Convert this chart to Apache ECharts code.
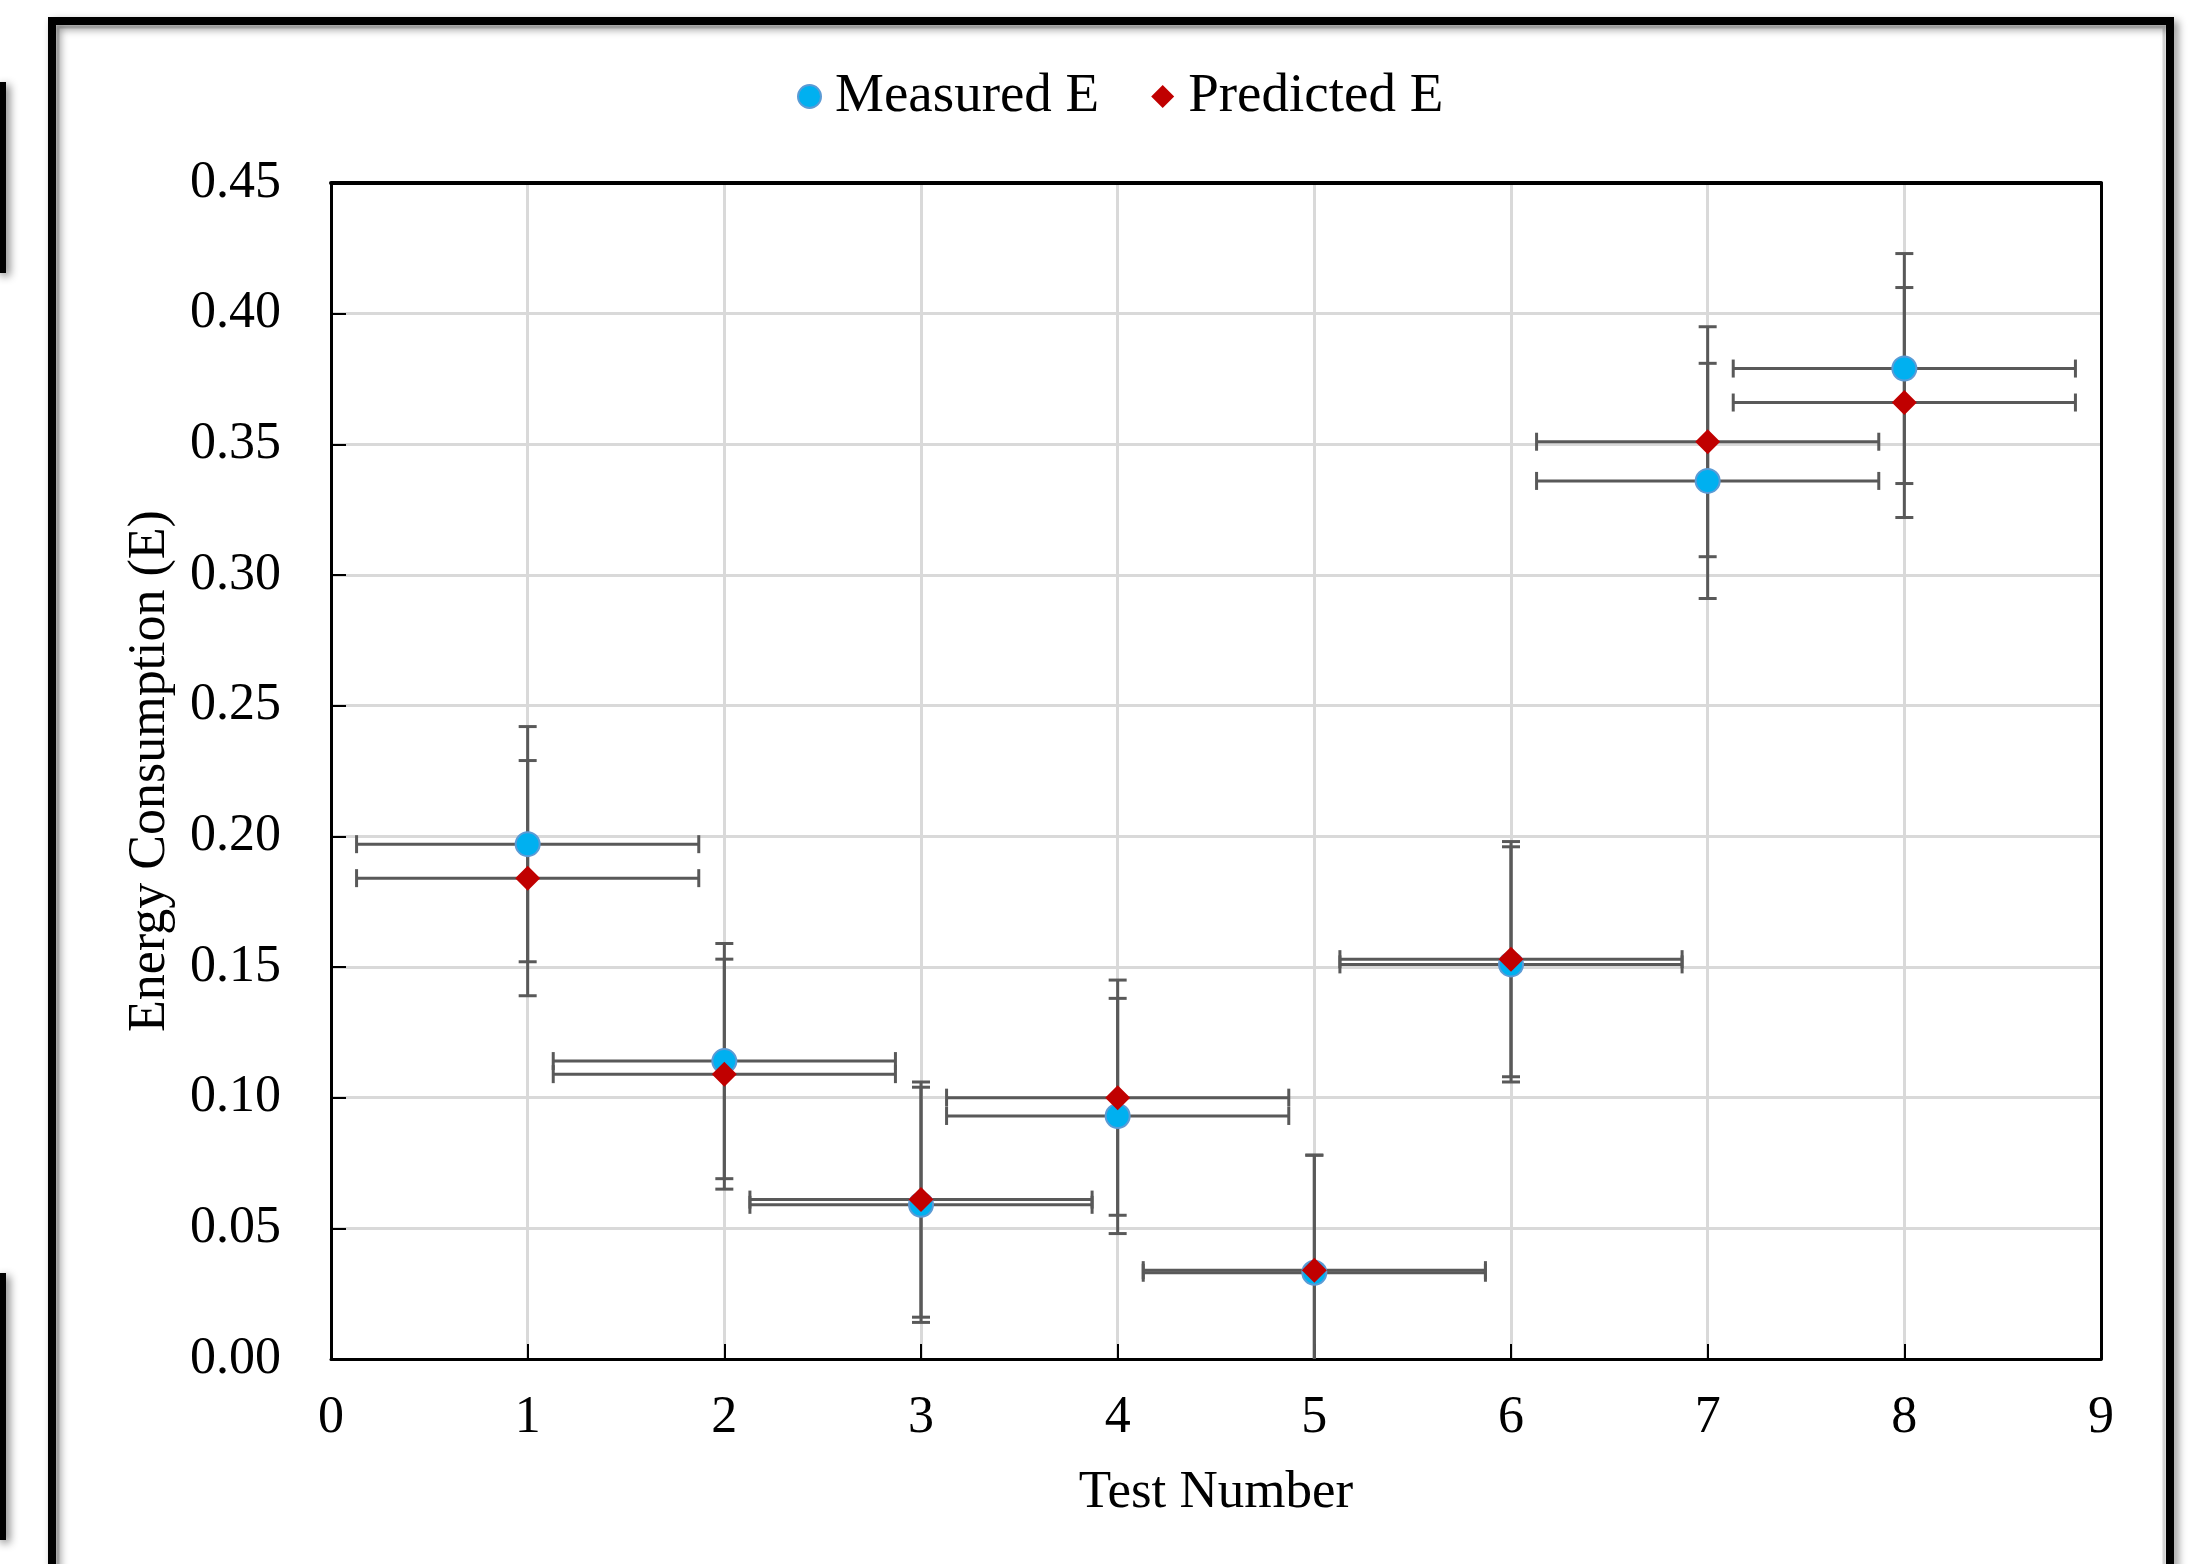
<!DOCTYPE html>
<html>
<head>
<meta charset="utf-8">
<title>Energy Consumption</title>
<script src="https://cdn.jsdelivr.net/npm/echarts@6/dist/echarts.min.js"></script>
<style>
  html, body { margin: 0; padding: 0; background: #fff; }
  #chart { width: 2193px; height: 1564px; }
</style>
</head>
<body>
<div id="chart"></div>
<script>
// 测试编号
const testNumbers = [1, 2, 3, 4, 5, 6, 7, 8];
// 实测值 / 预测值
const measuredE = [0.197, 0.114, 0.059, 0.093, 0.033, 0.151, 0.336, 0.379];
const predictedE = [0.184, 0.109, 0.061, 0.100, 0.034, 0.153, 0.351, 0.366];
// 误差棒 (y方向)
const measuredYErr = [0.045, 0.045, 0.045, 0.045, 0.045, 0.045, 0.045, 0.044];
const predictedYErr = [0.045, 0.044, 0.045, 0.045, 0.044, 0.045, 0.044, 0.044];
// 误差棒 (x方向)
const measuredXErr = [0.87, 0.87, 0.87, 0.87, 0.87, 0.87, 0.87, 0.87];
const predictedXErr = [0.87, 0.87, 0.87, 0.87, 0.87, 0.87, 0.87, 0.87];
// 坐标轴刻度
const xTicks = [0, 1, 2, 3, 4, 5, 6, 7, 8, 9];
const yTicks = [0, 0.05, 0.10, 0.15, 0.20, 0.25, 0.30, 0.35, 0.40, 0.45];

const FONT = 'Liberation Serif';
const BAR_COLOR = '#595959';

const chart = echarts.init(document.getElementById('chart'));

// 误差棒数据 [x, y, xerr, yerr]
const errData = (ys, xe, ye) => testNumbers.map((x, i) => [x, ys[i], xe[i], ye[i]]);

// 画十字误差棒
function renderErrorBar(params, api) {
  const x = api.value(0);
  const y = api.value(1);
  const xe = api.value(2);
  const ye = api.value(3);
  const cap = 9;
  const style = { stroke: BAR_COLOR, lineWidth: 3, fill: null };

  const left = api.coord([x - xe, y]);
  const right = api.coord([x + xe, y]);
  const lowVal = Math.max(0, y - ye);
  const top = api.coord([x, y + ye]);
  const bottom = api.coord([x, lowVal]);

  const line = (x1, y1, x2, y2) => ({
    type: 'line',
    shape: { x1: x1, y1: y1, x2: x2, y2: y2 },
    style: style
  });

  const children = [
    line(left[0], left[1], right[0], right[1]),
    line(left[0], left[1] - cap, left[0], left[1] + cap),
    line(right[0], right[1] - cap, right[0], right[1] + cap),
    line(top[0], top[1], bottom[0], bottom[1]),
    line(top[0] - cap, top[1], top[0] + cap, top[1])
  ];
  // 低于0的部分被坐标轴截断，不画端帽
  if (y - ye >= 0) {
    children.push(line(bottom[0] - cap, bottom[1], bottom[0] + cap, bottom[1]));
  }
  return { type: 'group', children: children };
}

const option = {
  animation: false,
  backgroundColor: '#fff',
  textStyle: { fontFamily: FONT, color: '#000' },
  graphic: [
    // 外框
    {
      type: 'rect',
      shape: { x: 52, y: 21, width: 2118, height: 1620 },
      style: {
        fill: null, stroke: '#000', lineWidth: 8,
        shadowBlur: 8, shadowColor: 'rgba(0,0,0,0.45)', shadowOffsetX: 4, shadowOffsetY: 4
      },
      z: 100
    },
    {
      type: 'rect',
      shape: { x: 58, y: 27, width: 2106, height: 1620 },
      style: { fill: null, stroke: '#d9d9d9', lineWidth: 3 },
      z: 99
    },
    // 左侧相邻图片边缘
    {
      type: 'rect',
      shape: { x: -4, y: 82, width: 10, height: 191 },
      style: { fill: '#000', shadowBlur: 8, shadowColor: 'rgba(0,0,0,0.45)', shadowOffsetX: 4, shadowOffsetY: 3 },
      z: 100
    },
    {
      type: 'rect',
      shape: { x: -4, y: 1273, width: 10, height: 267 },
      style: { fill: '#000', shadowBlur: 8, shadowColor: 'rgba(0,0,0,0.45)', shadowOffsetX: 4, shadowOffsetY: 3 },
      z: 100
    }
  ],
  legend: {
    data: [
      { name: 'Measured E', icon: 'circle', itemStyle: { color: '#00B0F0' } },
      { name: 'Predicted E', icon: 'diamond', itemStyle: { color: '#C00000' } }
    ],
    left: 792,
    top: 64,
    itemWidth: 23,
    itemHeight: 23,
    itemGap: 52,
    textStyle: { fontFamily: FONT, fontSize: 55, color: '#000', padding: [0, 0, 0, 9] }
  },
  grid: {
    left: 331,
    right: 92,
    top: 183,
    bottom: 205
  },
  xAxis: [
    {
      type: 'value',
      min: xTicks[0],
      max: xTicks[xTicks.length - 1],
      interval: 1,
      name: 'Test Number',
      nameLocation: 'middle',
      nameGap: 108,
      nameTextStyle: { fontFamily: FONT, fontSize: 53, color: '#000' },
      axisLine: { onZero: false, lineStyle: { color: '#000', width: 3 } },
      axisTick: { inside: true, length: 15, lineStyle: { color: '#000', width: 2 } },
      axisLabel: { fontFamily: FONT, fontSize: 52, color: '#000', margin: 33 },
      splitLine: { show: true, lineStyle: { color: '#d9d9d9', width: 3 } }
    },
    {
      type: 'value',
      position: 'top',
      min: xTicks[0],
      max: xTicks[xTicks.length - 1],
      axisLine: { show: true, onZero: false, lineStyle: { color: '#000', width: 4 } },
      axisTick: { show: false },
      axisLabel: { show: false },
      splitLine: { show: false }
    }
  ],
  yAxis: [
    {
      type: 'value',
      min: yTicks[0],
      max: yTicks[yTicks.length - 1],
      interval: 0.05,
      name: 'Energy Consumption (E)',
      nameLocation: 'middle',
      nameGap: 155,
      nameTextStyle: { fontFamily: FONT, fontSize: 52, color: '#000' },
      axisLine: { show: true, onZero: false, lineStyle: { color: '#000', width: 3 } },
      axisTick: { show: true, inside: true, length: 15, lineStyle: { color: '#000', width: 2 } },
      axisLabel: {
        fontFamily: FONT, fontSize: 52, color: '#000', margin: 50,
        formatter: v => v.toFixed(2)
      },
      splitLine: { show: true, lineStyle: { color: '#d9d9d9', width: 3 } }
    },
    {
      type: 'value',
      position: 'right',
      min: yTicks[0],
      max: yTicks[yTicks.length - 1],
      axisLine: { show: true, onZero: false, lineStyle: { color: '#000', width: 3 } },
      axisTick: { show: false },
      axisLabel: { show: false },
      splitLine: { show: false }
    }
  ],
  series: [
    {
      name: 'Measured E err',
      type: 'custom',
      renderItem: renderErrorBar,
      data: errData(measuredE, measuredXErr, measuredYErr),
      z: 2,
      silent: true
    },
    {
      name: 'Predicted E err',
      type: 'custom',
      renderItem: renderErrorBar,
      data: errData(predictedE, predictedXErr, predictedYErr),
      z: 2,
      silent: true
    },
    {
      name: 'Measured E',
      type: 'scatter',
      symbol: 'circle',
      symbolSize: 24,
      data: testNumbers.map((x, i) => [x, measuredE[i]]),
      itemStyle: { color: '#00B0F0', borderColor: '#5B9BD5', borderWidth: 2, opacity: 1 },
      z: 3
    },
    {
      name: 'Predicted E',
      type: 'scatter',
      symbol: 'diamond',
      symbolSize: [25, 25],
      data: testNumbers.map((x, i) => [x, predictedE[i]]),
      itemStyle: { color: '#C00000', opacity: 1 },
      z: 4
    }
  ]
};

chart.setOption(option);

window.addEventListener('resize', () => chart.resize());
</script>
</body>
</html>
